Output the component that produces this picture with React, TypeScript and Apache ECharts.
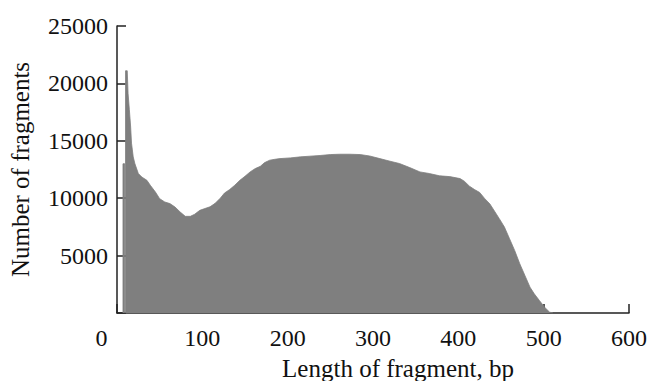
import React, { useEffect, useRef } from "react";
import * as echarts from "echarts";

// Fragment length (bp) sample points
const fragmentLength: number[] = [
  7, 7, 9, 9, 10, 10, 12, 13, 14.5, 16, 17, 19, 21, 25, 29, 35, 39, 45, 50, 56, 62, 68, 74, 80, 86, 91, 97,
  103, 109, 115, 121, 126, 132, 138, 144, 150, 156, 162, 168, 173, 179, 185, 191, 203, 215, 226, 238, 250,
  261, 273, 285, 296, 308, 320, 331, 343, 355, 366, 378, 390, 402, 407, 413, 419, 425, 431, 437, 443, 448,
  454, 460, 466, 472, 478, 484, 489, 495, 501, 507, 511,
];
// Number of fragments at those lengths
const fragmentCount: number[] = [
  0, 13000, 13000, 0, 0, 21100, 21100, 19100, 17700, 16200, 14800, 13600, 13000, 12150, 11850, 11560, 11130,
  10540, 9960, 9670, 9530, 9230, 8800, 8420, 8420, 8600, 8940, 9100, 9250, 9550, 10000, 10450, 10750, 11130,
  11560, 11910, 12290, 12580, 12780, 13100, 13310, 13390, 13450, 13510, 13600, 13660, 13720, 13800, 13830,
  13830, 13800, 13680, 13450, 13220, 13020, 12670, 12290, 12150, 11950, 11880, 11710, 11480, 11050, 10750,
  10500, 9960, 9500, 8800, 8220, 7490, 6470, 5450, 4290, 3270, 2250, 1670, 1090, 510, 70, 0,
];

const xTicks = { min: 0, max: 600, interval: 100 };
const yTicks = { min: 0, max: 25000, interval: 5000 };

const FONT = "'Liberation Serif', 'Times New Roman', serif";

export default function App() {
  const ref = useRef<HTMLDivElement>(null);
  useEffect(() => {
    document.body.style.margin = "0";
    if (!ref.current) return;
    const chart = echarts.init(ref.current, null, { renderer: "svg" });
    const data = fragmentLength.map((x, i) => [x, fragmentCount[i]]);
    chart.setOption({
      animation: false,
      backgroundColor: "#ffffff",
      grid: { left: 117, right: 24, top: 26, bottom: 68, containLabel: false, outerBoundsMode: "none" },
      xAxis: {
        type: "value",
        min: xTicks.min,
        max: xTicks.max,
        interval: xTicks.interval,
        name: "Length of fragment, bp",
        nameLocation: "middle",
        nameGap: 43,
        nameTextStyle: {
          fontFamily: FONT,
          fontSize: 25,
          lineHeight: 24,
          color: "#111",
          padding: [0, 0, 0, 50],
        },
        axisLine: { lineStyle: { color: "#222", width: 1.5 } },
        axisTick: { inside: true, length: 9, lineStyle: { color: "#222", width: 1.5 } },
        splitLine: { show: false },
        axisLabel: {
          fontFamily: FONT,
          fontSize: 24,
          color: "#111",
          margin: 13,
          formatter: (v: number) => (v === 0 ? "{z|0}" : String(v)),
          rich: { z: { fontFamily: FONT, fontSize: 24, color: "#111", padding: [0, 31, 0, 0] } },
        },
      },
      yAxis: {
        type: "value",
        min: yTicks.min,
        max: yTicks.max,
        interval: yTicks.interval,
        name: "Number of fragments",
        nameLocation: "middle",
        nameGap: 84,
        nameTextStyle: { fontFamily: FONT, fontSize: 25, color: "#111" },
        axisLine: { show: true, lineStyle: { color: "#222", width: 1.5 } },
        axisTick: { show: true, inside: true, length: 9, lineStyle: { color: "#222", width: 1.5 } },
        splitLine: { show: false },
        axisLabel: {
          fontFamily: FONT,
          fontSize: 24,
          color: "#111",
          margin: 9,
          formatter: (v: number) => (v === 0 ? "" : String(v)),
        },
      },
      series: [
        {
          type: "line",
          data,
          showSymbol: false,
          symbol: "none",
          lineStyle: { color: "#7f7f7f", width: 0.8 },
          areaStyle: { color: "#7f7f7f", opacity: 1 },
          z: 1,
        },
      ],
    });
    return () => chart.dispose();
  }, []);
  return (
    <div
      ref={ref}
      style={{ position: "absolute", left: 0, top: 0, width: 653, height: 381 }}
    />
  );
}
